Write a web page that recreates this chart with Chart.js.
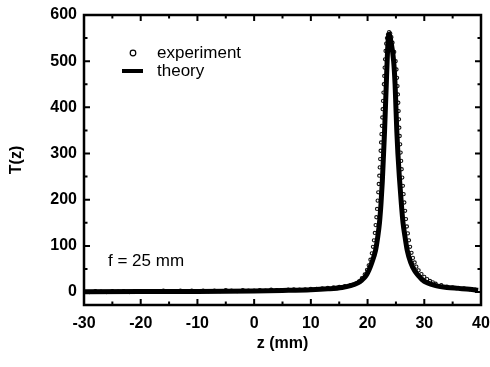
<!DOCTYPE html>
<html>
<head>
<meta charset="utf-8">
<script src="https://cdn.jsdelivr.net/npm/chart.js@4.4.1/dist/chart.umd.min.js"></script>
<style>
  html, body { margin: 0; padding: 0; background: #fff; }
  #wrap { width: 490px; height: 367px; }
</style>
</head>
<body>
<div id="wrap"><canvas id="zscan"></canvas></div>
<script>
// axis ticks
const xTicks = [-30, -20, -10, 0, 10, 20, 30, 40];
const yTicks = [0, 100, 200, 300, 400, 500, 600];

// theory curve
const theoryZ = [-30, -20, -10, 0, 5, 10, 13, 15.5, 17, 18.3, 19, 19.7, 20.25, 20.7, 21.4, 21.8, 22.1, 22.37, 22.6, 22.78,
  23.0, 23.15, 23.3, 23.45, 23.6, 23.8, 24.15, 24.6, 24.85, 25.0, 25.15, 25.35, 25.6, 25.95, 26.25, 26.6, 27.0, 27.6,
  28.3, 29.0, 29.6, 30.5, 32, 34, 36, 38, 39.5];
const theoryT = [0.5, 1, 1.5, 2.5, 3.5, 5, 7, 10, 14, 20, 26, 35, 48, 62, 90, 120, 150, 192, 240, 289,
  350, 400, 450, 500, 540, 558, 540, 500, 450, 400, 350, 300, 250, 192, 150, 120, 90, 64,
  46, 35, 27, 20, 14, 10, 8, 6, 4];

// experiment (open circles)
const expZ = [-30, -29, -28, -27, -26, -25, -24, -23, -22, -21, -20, -19, -18, -17, -16, -15, -14, -13, -12, -11,
  -10, -9, -8, -7, -6, -5, -4, -3, -2, -1, 0, 1, 2, 3, 4, 5, 6, 7, 8, 9, 10, 11, 12, 13, 14, 15, 16, 17, 17.5, 18, 18.5,
  19.0, 19.5, 19.9, 20.2, 20.5, 20.75, 20.95, 21.12, 21.28, 21.42, 21.55, 21.67, 21.78, 21.88, 21.97, 22.06, 22.14,
  22.22, 22.3, 22.38, 22.45, 22.52, 22.59, 22.66, 22.73, 22.8, 22.87, 22.94, 23.01, 23.08, 23.17, 23.28, 23.42, 23.6,
  23.8, 24.0, 24.2, 24.4, 24.7, 24.95, 25.1, 25.2, 25.28, 25.35, 25.42, 25.48, 25.54, 25.6, 25.67, 25.75, 25.83, 25.92,
  26.02, 26.12, 26.23, 26.35, 26.48, 26.62, 26.77, 26.93, 27.1, 27.3, 27.5, 27.75, 28.0, 28.3, 28.6, 29.0, 29.5, 30.0,
  30.5, 31, 31.5, 32, 33, 34, 35, 36, 37, 38, 39];
const expT = [1, 0, 2, 1, 0, 2, 1, 2, 0, 1, 2, 1, 2, 1, 3, 2, 1, 3, 2, 3,
  1, 3, 2, 3, 2, 4, 3, 2, 4, 3, 3, 4, 3, 5, 4, 4, 5, 6, 5, 6, 7, 7, 8, 9, 10, 11, 13, 15, 16, 19, 23,
  30, 38, 48, 58, 70, 84, 98, 112, 128, 145, 162, 180, 198, 216, 234, 252, 270,
  288, 306, 324, 342, 360, 378, 396, 414, 432, 450, 468, 486, 504, 522, 538, 550, 558,
  563, 560, 552, 540, 520, 500, 482, 464, 446, 428, 410, 392, 374, 356, 338, 320, 302, 284,
  266, 248, 230, 212, 194, 176, 158, 142, 127, 112, 98, 85, 74, 64, 55, 47, 39, 33,
  28, 24, 21, 18, 15, 12, 10, 9, 8, 6, 5];

const theoryPts = theoryZ.map((z, i) => ({ x: z, y: theoryT[i] }));
const expPts = expZ.map((z, i) => ({ x: z, y: expT[i] }));

const tickFont = { family: 'Liberation Sans, Arial, sans-serif', size: 16, weight: 'bold' };

// frame, inward ticks, legend and note
const decor = {
  id: 'decor',
  afterDraw(chart) {
    const { ctx, chartArea: a, scales: { x, y } } = chart;
    ctx.save();
    ctx.strokeStyle = '#000';
    ctx.lineWidth = 2.5;
    ctx.strokeRect(a.left, a.top, a.right - a.left, a.bottom - a.top);

    ctx.lineWidth = 2;
    ctx.beginPath();
    xTicks.forEach((v, i) => {
      const marks = [[v, 6]];
      if (i < xTicks.length - 1) marks.push([(v + xTicks[i + 1]) / 2, 3.5]);
      marks.forEach(([m, len]) => {
        const px = x.getPixelForValue(m);
        ctx.moveTo(px, a.bottom); ctx.lineTo(px, a.bottom - len);
        ctx.moveTo(px, a.top); ctx.lineTo(px, a.top + len);
      });
    });
    yTicks.forEach((v, i) => {
      const marks = [[v, 6]];
      if (i < yTicks.length - 1) marks.push([(v + yTicks[i + 1]) / 2, 3.5]);
      marks.forEach(([m, len]) => {
        const py = y.getPixelForValue(m);
        ctx.moveTo(a.left, py); ctx.lineTo(a.left + len, py);
        ctx.moveTo(a.right, py); ctx.lineTo(a.right - len, py);
      });
    });
    ctx.stroke();

    // legend
    const ds = chart.data.datasets;
    ctx.fillStyle = '#000';
    ctx.font = '17px Liberation Sans, Arial, sans-serif';
    ctx.textBaseline = 'middle';
    ctx.lineWidth = 1.2;
    ctx.beginPath();
    ctx.arc(a.left + 49, a.top + 38, 2.8, 0, Math.PI * 2);
    ctx.stroke();
    ctx.fillText(ds[1].label, a.left + 73, a.top + 38);
    ctx.lineWidth = 4;
    ctx.beginPath();
    ctx.moveTo(a.left + 38, a.top + 56);
    ctx.lineTo(a.left + 59, a.top + 56);
    ctx.stroke();
    ctx.fillText(ds[0].label, a.left + 73, a.top + 56);

    // focal length note
    ctx.fillText('f = 25 mm', a.left + 24, y.getPixelForValue(67));
    ctx.restore();
  }
};

new Chart(document.getElementById('zscan'), {
  type: 'scatter',
  data: {
    datasets: [
      {
        label: 'theory',
        data: theoryPts,
        showLine: true,
        borderColor: '#000',
        borderWidth: 5,
        pointRadius: 0,
        cubicInterpolationMode: 'monotone'
      },
      {
        label: 'experiment',
        data: expPts,
        showLine: false,
        pointRadius: 1.6,
        pointBorderWidth: 1.1,
        pointBorderColor: '#111',
        pointBackgroundColor: 'rgba(255,255,255,0)'
      }
    ]
  },
  options: {
    responsive: true,
    maintainAspectRatio: false,
    animation: false,
    layout: { padding: { top: 15, right: 9, left: 0, bottom: 0 } },
    plugins: { legend: { display: false }, tooltip: { enabled: false } },
    scales: {
      x: {
        type: 'linear',
        min: -30,
        max: 40,
        afterBuildTicks: s => { s.ticks = xTicks.map(v => ({ value: v })); },
        afterFit: s => { s.height = 62; s.paddingLeft = 0; s.paddingRight = 0; },
        grid: { display: false, drawTicks: false },
        border: { display: false },
        ticks: { color: '#000', font: tickFont, padding: 9, maxRotation: 0 },
        title: { display: true, text: 'z (mm)', color: '#000', font: tickFont, padding: { top: 0, bottom: 14 } }
      },
      y: {
        type: 'linear',
        min: -28,
        max: 600,
        afterBuildTicks: s => { s.ticks = yTicks.map(v => ({ value: v })); },
        afterFit: s => { s.width = 84; s.paddingTop = 0; s.paddingBottom = 0; },
        grid: { display: false, drawTicks: false },
        border: { display: false },
        ticks: { color: '#000', font: tickFont, padding: 7 },
        title: { display: true, text: 'T(z)', color: '#000', font: tickFont, padding: { top: 7, bottom: 0 } }
      }
    }
  },
  plugins: [decor]
});
</script>
</body>
</html>
